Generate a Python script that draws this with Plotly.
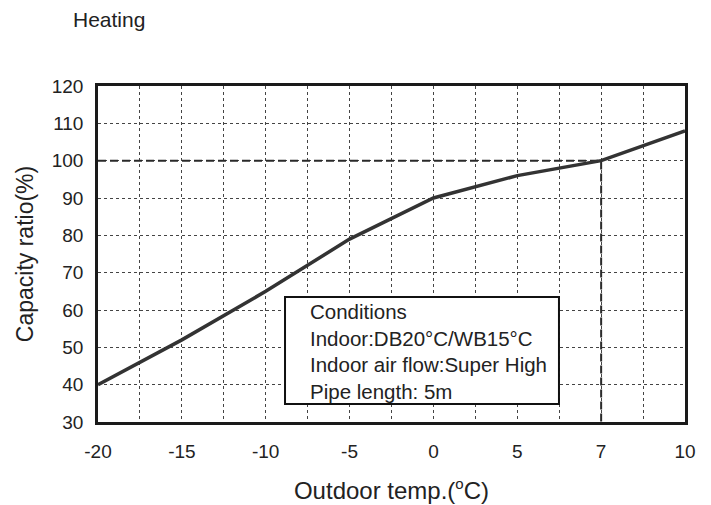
import plotly.graph_objects as go

# ---- data ----
x_labels = ["-20", "-15", "-10", "-5", "0", "5", "7", "10"]
temps = [-20, -15, -10, -5, 0, 5, 7, 10]
capacity = [40, 52, 65, 79, 90, 96, 100, 108]
y_ticks = [30, 40, 50, 60, 70, 80, 90, 100, 110, 120]
ref_temp = 7
ref_capacity = 100
conditions = ["Conditions", "Indoor:DB20°C/WB15°C",
              "Indoor air flow:Super High", "Pipe length: 5m"]

# x axis is evenly spaced per label (category-like), so use label index
pos = list(range(len(temps)))
ref_pos = temps.index(ref_temp)

FONT = "Liberation Sans, Arial, sans-serif"
INK = "#222222"
W, H = 703, 497  # page has an 8px body margin

fig = go.Figure()

# dashed reference lines
fig.add_trace(go.Scatter(
    x=[pos[0], ref_pos, ref_pos],
    y=[ref_capacity, ref_capacity, y_ticks[0]],
    mode="lines",
    line=dict(color="#2a2a2a", width=2, dash="8px,4px"),
    hoverinfo="skip", showlegend=False))

# capacity curve
fig.add_trace(go.Scatter(
    x=pos, y=capacity, mode="lines",
    line=dict(color="#333333", width=3.5),
    showlegend=False))

# conditions box
fig.add_shape(type="rect", xref="paper", yref="paper",
              x0=0.3186, x1=0.7853, y0=0.0536, y1=0.372,
              fillcolor="white", line=dict(color="#111111", width=2),
              layer="above")
fig.add_annotation(xref="paper", yref="paper", x=0.357, y=0.211,
                   xanchor="left", yanchor="middle", align="left",
                   showarrow=False, text="<br>".join(conditions),
                   font=dict(family=FONT, size=20.5, color=INK))

fig.update_layout(
    width=W, height=H,
    margin=dict(l=90, r=26, t=78, b=83, autoexpand=False),
    paper_bgcolor="white", plot_bgcolor="white",
    title=dict(text="Heating", x=65 / W, xanchor="left", xref="container",
               y=1 - 12 / H, yanchor="middle", yref="container",
               font=dict(family=FONT, size=21, color=INK)),
    font=dict(family=FONT, color=INK),
)

fig.update_xaxes(
    range=[pos[0], pos[-1]], automargin=False,
    tickmode="array", tickvals=pos, ticktext=x_labels,
    tickfont=dict(size=19, color=INK),
    ticklabelstandoff=10,
    showgrid=True, gridcolor="#444444", gridwidth=1, griddash="dot",
    minor=dict(tick0=0, dtick=0.5, showgrid=True, gridcolor="#444444",
               gridwidth=1, griddash="dot"),
    showline=True, mirror=True, linecolor="#1a1a1a", linewidth=2.5,
    zeroline=False,
    title=dict(text="Outdoor temp.(<sup><span style='font-size:15px'>o</span></sup>C)",
               standoff=22, font=dict(size=24, color=INK)),
)

fig.update_yaxes(
    range=[y_ticks[0], y_ticks[-1]], automargin=False,
    tickmode="array", tickvals=y_ticks,
    tickfont=dict(size=19, color=INK),
    ticklabelstandoff=8,
    showgrid=True, gridcolor="#444444", gridwidth=1, griddash="dot",
    showline=True, mirror=True, linecolor="#1a1a1a", linewidth=2.5,
    zeroline=False,
    title=dict(text="Capacity ratio(%)", standoff=12,
               font=dict(size=23, color=INK)),
)

fig.write_html("out.html")
